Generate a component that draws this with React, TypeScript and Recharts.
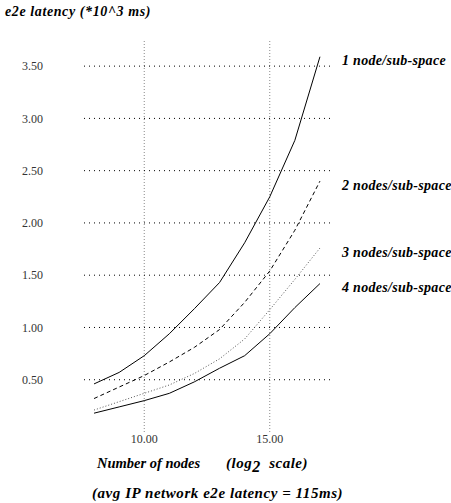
import React from "react";
import {
  LineChart,
  Line,
  XAxis,
  YAxis,
  ReferenceLine,
  LabelList,
} from "recharts";

// log2 of the number of nodes
const nodesLog2 = [8, 9, 10, 11, 12, 13, 14, 15, 16, 17];

// e2e latency (*10^3 ms)
const oneNode = [0.46, 0.57, 0.73, 0.94, 1.18, 1.43, 1.81, 2.25, 2.79, 3.59];
const twoNodes = [0.32, 0.43, 0.54, 0.67, 0.81, 0.98, 1.24, 1.54, 1.93, 2.4];
const threeNodes = [0.21, 0.29, 0.37, 0.45, 0.56, 0.7, 0.89, 1.17, 1.46, 1.76];
const fourNodes = [0.18, 0.24, 0.3, 0.37, 0.48, 0.61, 0.73, 0.94, 1.19, 1.42];

const seriesNames = [
  "1 node/sub-space",
  "2 nodes/sub-space",
  "3 nodes/sub-space",
  "4 nodes/sub-space",
];

const xTicks = [10, 15];
const yTicks = [0.5, 1, 1.5, 2, 2.5, 3, 3.5];

const data = nodesLog2.map((n, i) => ({
  n,
  s1: oneNode[i],
  s2: twoNodes[i],
  s3: threeNodes[i],
  s4: fourNodes[i],
}));

const serif = "'Liberation Serif', 'Times New Roman', serif";

const endLabel = (text: string) => (props: any) => {
  const { x, y, index } = props;
  if (index !== nodesLog2.length - 1) return null;
  return (
    <text
      x={Number(x) + 22}
      y={Number(y) + 4}
      dominantBaseline="central"
      fontFamily={serif}
      fontSize={14}
      fontWeight="bold"
      fontStyle="italic"
      letterSpacing={0.3}
      fill="#000"
    >
      {text}
    </text>
  );
};

const titleStyle: React.CSSProperties = {
  position: "absolute",
  fontFamily: serif,
  fontWeight: "bold",
  fontStyle: "italic",
  fontSize: 15,
  color: "#000",
  whiteSpace: "nowrap",
  lineHeight: "16px",
};

export default function App() {
  const tick = { fontFamily: serif, fontSize: 12, fill: "#333" };
  return (
    <div style={{ position: "absolute", left: 0, top: 0, width: 451, height: 503, background: "#fff" }}>
      <LineChart
        width={451}
        height={503}
        data={data}
        margin={{ top: 40, right: 121, bottom: 0, left: 0 }}
      >
        <XAxis
          dataKey="n"
          type="number"
          domain={[7.6, 17.4]}
          ticks={xTicks}
          allowDataOverflow
          axisLine={false}
          tickLine={false}
          tickSize={0}
          tickMargin={2}
          height={71}
          tick={tick}
          tickFormatter={(v: number) => v.toFixed(2)}
        />
        <YAxis
          type="number"
          domain={[0, 3.75]}
          ticks={yTicks}
          allowDataOverflow
          axisLine={false}
          tickLine={false}
          tickSize={0}
          tickMargin={41}
          width={84}
          tick={tick}
          tickFormatter={(v: number) => v.toFixed(2)}
        />
        {xTicks.map((t) => (
          <ReferenceLine key={"x" + t} x={t} stroke="#888" strokeDasharray="1 2" />
        ))}
        {yTicks.map((t) => (
          <ReferenceLine key={"y" + t} y={t} stroke="#000" strokeDasharray="1 4" />
        ))}
        <Line dataKey="s1" stroke="#000" strokeWidth={1} dot={false} activeDot={false} isAnimationActive={false}>
          <LabelList dataKey="s1" content={endLabel(seriesNames[0])} />
        </Line>
        <Line dataKey="s2" stroke="#000" strokeWidth={1} strokeDasharray="4 3" dot={false} activeDot={false} isAnimationActive={false}>
          <LabelList dataKey="s2" content={endLabel(seriesNames[1])} />
        </Line>
        <Line dataKey="s3" stroke="#555" strokeWidth={1} strokeDasharray="1 2" dot={false} activeDot={false} isAnimationActive={false}>
          <LabelList dataKey="s3" content={endLabel(seriesNames[2])} />
        </Line>
        <Line dataKey="s4" stroke="#000" strokeWidth={1} dot={false} activeDot={false} isAnimationActive={false}>
          <LabelList dataKey="s4" content={endLabel(seriesNames[3])} />
        </Line>
      </LineChart>
      <div style={{ ...titleStyle, fontSize: 14, letterSpacing: 0.6, left: 5, top: 4 }}>e2e latency (*10^3 ms)</div>
      <div style={{ ...titleStyle, fontSize: 14.5, letterSpacing: 0, left: 97, top: 455 }}>Number of nodes</div>
      <div style={{ ...titleStyle, letterSpacing: 0.5, left: 226, top: 455 }}>
        (log<sub style={{ fontSize: 16, verticalAlign: "-4px", lineHeight: 0 }}>2</sub>&nbsp; scale)
      </div>
      <div style={{ ...titleStyle, letterSpacing: 0.55, left: 92, top: 485 }}>(avg IP network e2e latency = 115ms)</div>
    </div>
  );
}
